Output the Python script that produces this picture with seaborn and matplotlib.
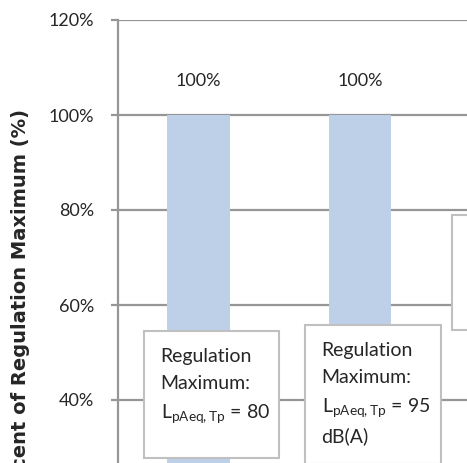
import matplotlib
matplotlib.use("Agg")
import matplotlib.pyplot as plt
from matplotlib.patches import Rectangle
from matplotlib.transforms import offset_copy
import seaborn as sns
import pandas as pd

# Share of the regulation maximum for each measured case
categories = ["Case A", "Case B"]
values = [100, 100]
value_labels = ["100%", "100%"]

# Regulation limits noted beside each bar, one list entry per text line
limit_notes = [
    ["Regulation", "Maximum:", "L$_{\\mathregular{pAeq,Tp}}$ = 80"],
    ["Regulation", "Maximum:", "L$_{\\mathregular{pAeq,Tp}}$ = 95", "dB(A)"],
    [],
]

y_ticks = [0, 20, 40, 60, 80, 100, 120]
y_tick_labels = ["0%", "20%", "40%", "60%", "80%", "100%", "120%"]

sns.set_theme(style="white")
plt.rcParams["font.family"] = ["Lato", "DejaVu Sans"]

W, H = 467, 463
fig = plt.figure(figsize=(W / 100, H / 100), dpi=100)

# plot area runs past the right and bottom edges of the canvas
left_px, top_px, bottom_px, right_px = 118, 20, 590, 602
ax = fig.add_axes([left_px / W, 1 - bottom_px / H,
                   (right_px - left_px) / W, (bottom_px - top_px) / H])

df = pd.DataFrame({"case": categories, "pct": values})
sns.barplot(data=df, x="case", y="pct", color="#bdd0e8", width=0.39,
            saturation=1, linewidth=0, edgecolor="none", ax=ax, zorder=2)

ax.set_xlim(-0.5, 2.5)
ax.set_ylim(0, 120)
ax.set_yticks(y_ticks)
ax.set_yticklabels(y_tick_labels)
ax.set_xlabel("")
ax.set_ylabel("")
ax.set_xticks([])

grid_c = "#969696"
ax.yaxis.grid(True, color=grid_c, linewidth=1.6, zorder=0)
ax.set_axisbelow(True)
for side in ["top", "right", "bottom"]:
    ax.spines[side].set_visible(False)
ax.spines["left"].set_color(grid_c)
ax.spines["left"].set_linewidth(1.6)
ax.tick_params(axis="y", which="both", left=True, length=5, width=1.6,
               color=grid_c, labelsize=13, labelcolor="#262626", pad=12)

ax.bar_label(ax.containers[0], labels=value_labels, padding=19,
             fontsize=13, color="#262626")

# note boxes: (x0, x1, y0, y1) in data units
boxes = [(-0.341, 0.495, 27.8, 54.5),
         (0.656, 1.505, 26.5, 55.8),
         (1.573, 2.45, 54.7, 78.9)]
# baseline drop of each text line below the box top, in pixels
line_drops = [31, 58, 88, 117]
for (x0, x1, y0, y1), lines in zip(boxes, limit_notes):
    ax.add_patch(Rectangle((x0, y0), x1 - x0, y1 - y0, facecolor="white",
                           edgecolor="#c0c0c0", linewidth=1.5, zorder=4))
    for line, drop in zip(lines, line_drops):
        tr = offset_copy(ax.transData, fig=fig, x=17, y=-drop, units="dots")
        ax.text(x0, y1, line, transform=tr, ha="left", va="baseline",
                fontsize=14, color="#262626", zorder=5)

fig.text(21 / W, 1 - 109 / H, "Percent of Regulation Maximum (%)", rotation=90,
         ha="center", va="top", fontsize=14, fontweight="bold",
         family="DejaVu Sans", color="#262626")

fig.savefig("out.png", dpi=100)
